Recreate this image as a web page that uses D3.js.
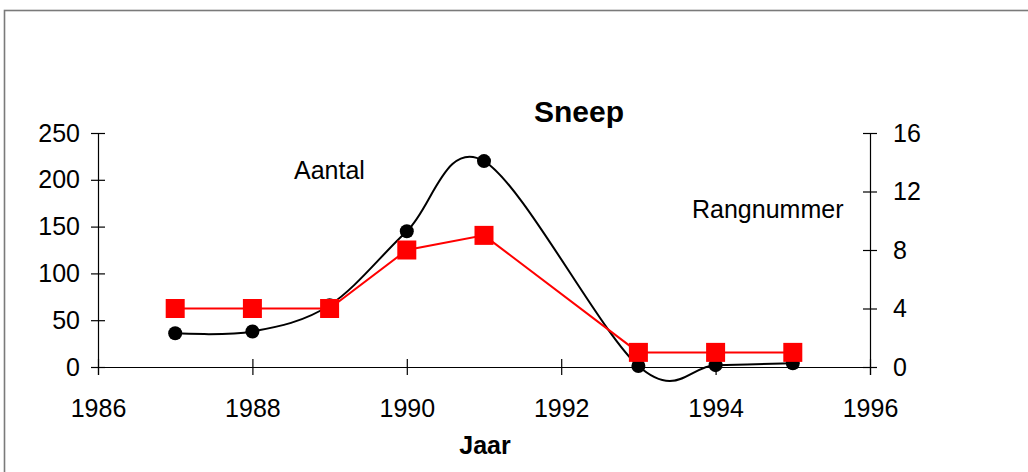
<!DOCTYPE html>
<html>
<head>
<meta charset="utf-8">
<script src="https://cdn.jsdelivr.net/npm/d3@7"></script>
<style>
  html, body { margin: 0; padding: 0; background: #fff; }
  svg { display: block; }
  text { font-family: "Liberation Sans", Arial, sans-serif; fill: #000; }
</style>
</head>
<body>
<svg id="chart" width="1028" height="472"></svg>
<script>
// Data
const years = [1987, 1988, 1989, 1990, 1991, 1993, 1994, 1995];
const aantal = [36, 38, 66, 145, 220, 1, 2, 4];
const rangnummer = [4, 4, 4, 8, 9, 1, 1, 1];
const xTicks = [1986, 1988, 1990, 1992, 1994, 1996];
const yLeftTicks = [0, 50, 100, 150, 200, 250];
const yRightTicks = [0, 4, 8, 12, 16];
const title = "Sneep";
const xTitle = "Jaar";
const labelLeft = "Aantal";
const labelRight = "Rangnummer";

const svg = d3.select("#chart");

// frame
svg.append("rect")
  .attr("x", 4.5).attr("y", 10.5)
  .attr("width", 1040).attr("height", 480)
  .attr("fill", "none").attr("stroke", "#7a7a7a").attr("stroke-width", 1.6);

const x = d3.scaleLinear().domain([1986, 1996]).range([98, 870]);
const yL = d3.scaleLinear().domain([0, 250]).range([367, 133]);
const yR = d3.scaleLinear().domain([0, 16]).range([367, 133]);

// axes
const axL = svg.append("g").attr("transform", "translate(98,0)")
  .call(d3.axisLeft(yL).tickValues(yLeftTicks).tickSize(7).tickPadding(11));
const axR = svg.append("g").attr("transform", "translate(870,0)")
  .call(d3.axisRight(yR).tickValues(yRightTicks).tickSize(7).tickPadding(16));
const axB = svg.append("g").attr("transform", "translate(0,367)")
  .call(d3.axisBottom(x).tickValues(xTicks).tickFormat(d3.format("d")).tickSize(8).tickPadding(33));

[axL, axR, axB].forEach(g => {
  g.select(".domain").attr("stroke", "#000").attr("stroke-width", 1.2);
  g.selectAll(".tick line").attr("stroke", "#000").attr("stroke-width", 1.2);
  g.selectAll(".tick text").style("font-size", "25px").attr("font-family", "Liberation Sans, Arial, sans-serif");
});
// crossing ticks
axL.selectAll(".tick line").attr("x1", 7).attr("x2", -7);
axR.selectAll(".tick line").attr("x1", -7).attr("x2", 7);
axB.selectAll(".tick line").attr("y1", -8).attr("y2", 8);
axB.selectAll(".tick text").attr("dy", "0.35em");

// series
const dataA = years.map((y, i) => [y, aantal[i]]);
const dataR = years.map((y, i) => [y, rangnummer[i]]);

svg.append("path")
  .datum(dataA)
  .attr("fill", "none").attr("stroke", "#000").attr("stroke-width", 2)
  .attr("d", d3.line().x(d => x(d[0])).y(d => yL(d[1])).curve(d3.curveCardinal.tension(0)));

svg.append("g").selectAll("circle").data(dataA).join("circle")
  .attr("cx", d => x(d[0])).attr("cy", d => yL(d[1])).attr("r", 7).attr("fill", "#000");

svg.append("path")
  .datum(dataR)
  .attr("fill", "none").attr("stroke", "#ff0000").attr("stroke-width", 2)
  .attr("d", d3.line().x(d => x(d[0])).y(d => yR(d[1])));

svg.append("g").selectAll("rect").data(dataR).join("rect")
  .attr("x", d => x(d[0]) - 9.5).attr("y", d => yR(d[1]) - 9.5)
  .attr("width", 19).attr("height", 19).attr("fill", "#ff0000");

// texts
svg.append("text").attr("x", 579).attr("y", 122).attr("text-anchor", "middle")
  .style("font-size", "30px").style("font-weight", "bold").text(title);
svg.append("text").attr("x", 485).attr("y", 454).attr("text-anchor", "middle")
  .style("font-size", "25px").style("font-weight", "bold").text(xTitle);
svg.append("text").attr("x", 294).attr("y", 179)
  .style("font-size", "25px").text(labelLeft);
svg.append("text").attr("x", 692).attr("y", 218)
  .style("font-size", "25px").text(labelRight);
</script>
</body>
</html>
